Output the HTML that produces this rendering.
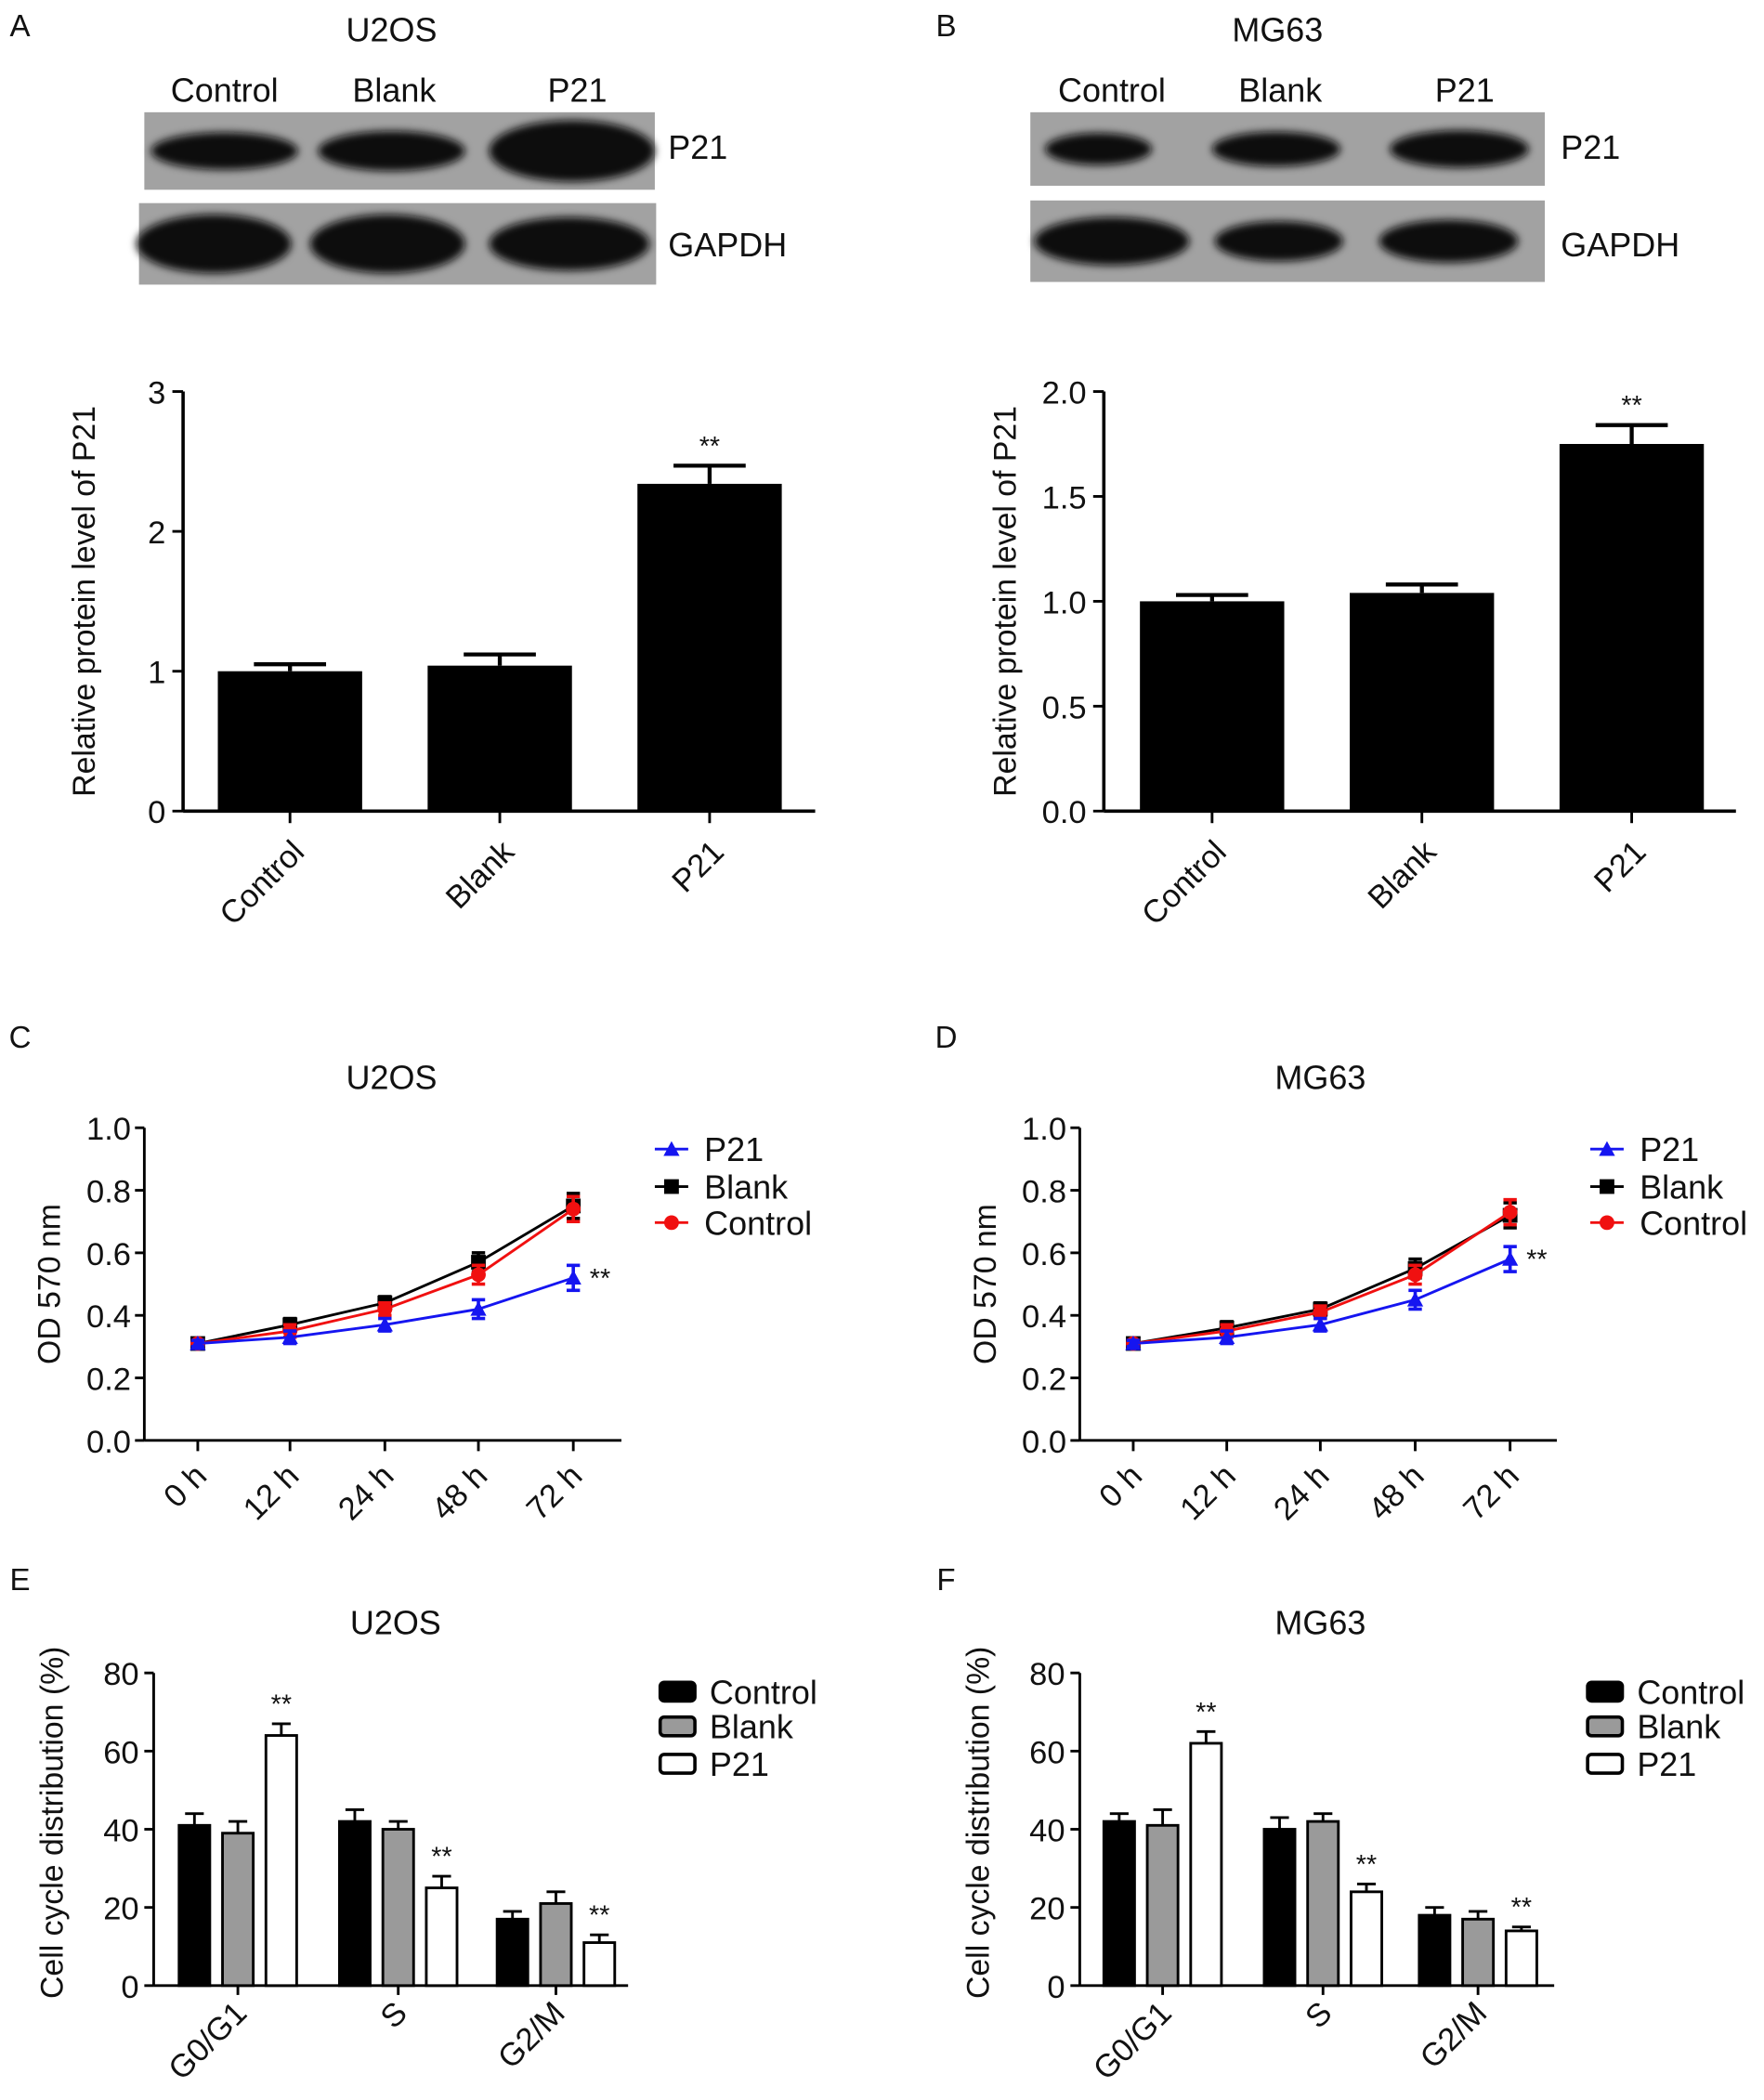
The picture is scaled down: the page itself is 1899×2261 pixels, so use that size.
<!DOCTYPE html>
<html><head><meta charset="utf-8"><style>
html,body{margin:0;padding:0;background:#fff;}
svg{display:block;font-family:"Liberation Sans",Arial,sans-serif;}
</style></head><body>
<svg id="fig" width="1899" height="2261" viewBox="0 0 1320 1571.6" xmlns="http://www.w3.org/2000/svg">
<defs>
<filter id="blur" x="-20%" y="-50%" width="140%" height="200%"><feGaussianBlur stdDeviation="3"/></filter>
</defs>
<g id="root"></g>
</svg>
<script>
// ---- Panel A/B bar data ----
const wbCategories = ["Control","Blank","P21"];
const u2osProtein = [1.0, 1.04, 2.34];
const u2osProteinErr = [0.05, 0.08, 0.13];
const mg63Protein = [1.0, 1.04, 1.75];
const mg63ProteinErr = [0.03, 0.04, 0.09];
const u2osProteinTicks = [0,1,2,3];
const mg63ProteinTicks = ["0.0","0.5","1.0","1.5","2.0"];
// ---- Panel C/D line data ----
const timeLabels = ["0 h","12 h","24 h","48 h","72 h"];
const u2osP21 = [0.31,0.33,0.37,0.42,0.52];
const u2osBlank = [0.31,0.37,0.44,0.57,0.75];
const u2osControl = [0.31,0.35,0.42,0.53,0.74];
const u2osErr = [0.01,0.02,0.02,0.03,0.04];
const mg63P21 = [0.31,0.33,0.37,0.45,0.58];
const mg63Blank = [0.31,0.36,0.42,0.55,0.72];
const mg63Control = [0.31,0.35,0.41,0.53,0.73];
const mg63Err = [0.01,0.02,0.02,0.03,0.04];
const odTicks = ["0.0","0.2","0.4","0.6","0.8","1.0"];
// ---- Panel E/F cycle data ----
const phases = ["G0/G1","S","G2/M"];
const u2osCycleControl = [41,42,17];
const u2osCycleBlank = [39,40,21];
const u2osCycleP21 = [64,25,11];
const u2osCycleErr = [[3,3,2],[3,2,3],[3,3,2]];
const mg63CycleControl = [42,40,18];
const mg63CycleBlank = [41,42,17];
const mg63CycleP21 = [62,24,14];
const mg63CycleErr = [[2,3,2],[4,2,2],[3,2,1]];
const cycleTicks = [0,20,40,60,80];

const FS=25, FT=24, FY=23.5;
const NS="http://www.w3.org/2000/svg";
const root=document.getElementById('root');
function el(tag,attrs,parent,text){const e=document.createElementNS(NS,tag);for(const k in attrs)e.setAttribute(k,attrs[k]);if(text!==undefined)e.textContent=text;(parent||root).appendChild(e);return e;}
function txt(x,y,s,size,parent,anchor,name,extra){const t=el('text',Object.assign({x:x,y:y,'font-size':size,'text-anchor':anchor||'middle',fill:'#111'},extra||{}),parent,s);


return t;}

// ---- panel labels and titles ----
[["A",15,27],["B",708,27],["C",15,784],["D",708,784],["E",15,1190],["F",708,1190]].forEach(p=>txt(p[1],p[2],p[0],23,root,'middle','panel-label-'+p[0].toLowerCase()));
[["U2OS",293,31],["MG63",956,31],["U2OS",293,815],["MG63",988,815],["U2OS",296,1223],["MG63",988,1223]].forEach((p,i)=>txt(p[1],p[2],p[0],FS,root,'middle','panel-title-'+i));

// ---- western blots ----
function blot(g,x0,x1,y0,y1,lanes,name){
  const grp=el('g',{},g);
  
  
  el('rect',{x:x0,y:y0,width:x1-x0,height:y1-y0,fill:'#a2a2a2'},grp);
  lanes.forEach(l=>el('ellipse',{cx:l[0],cy:(y0+y1)/2,rx:l[1],ry:l[2],fill:'#0c0c0c',filter:'url(#blur)'},grp));
}
blot(root,108,490,84,142,[[168,55,14],[293,55,15],[428,62,23]],'u2os-p21-blot');
blot(root,104,491,152,213,[[160,58,22],[290,58,22],[426,60,20]],'u2os-gapdh-blot');
blot(root,771,1156,84,139,[[822,40,12],[955,48,13],[1092,52,14]],'mg63-p21-blot');
blot(root,771,1156,150,211,[[832,58,18],[957,48,15],[1084,52,16]],'mg63-gapdh-blot');
[[168,"Control"],[295,"Blank"],[432,"P21"]].forEach(l=>txt(l[0],76,l[1],FS,root,'middle','lane-label-u2os'));
[[832,"Control"],[958,"Blank"],[1096,"P21"]].forEach(l=>txt(l[0],76,l[1],FS,root,'middle','lane-label-mg63'));
txt(500,119,"P21",FS,root,'start','blot-label-p21');txt(500,192,"GAPDH",FS,root,'start','blot-label-gapdh');
txt(1168,119,"P21",FS,root,'start','blot-label-p21');txt(1168,192,"GAPDH",FS,root,'start','blot-label-gapdh');

// ---- protein bar charts ----
function proteinChart(ax,vals,errs,ticks,ymax,barX,name){
  const g=el('g',{});
  
  
  const y0=607,yTop=293,xEnd=ax+473;
  const Y=v=>y0-(v/ymax)*(y0-yTop);
  el('line',{x1:ax,y1:yTop,x2:ax,y2:y0,stroke:'#000','stroke-width':2.5},g);
  el('line',{x1:ax,y1:y0,x2:xEnd,y2:y0,stroke:'#000','stroke-width':2.5},g);
  ticks.forEach(t=>{const y=Y(parseFloat(t));el('line',{x1:ax-8,y1:y,x2:ax,y2:y,stroke:'#000','stroke-width':2},g);txt(ax-13,y+9,String(t),FT,g,'end','y-tick-label');});
  const bw=108;
  vals.forEach((v,i)=>{const x=barX[i];
    const r=el('rect',{x:x,y:Y(v),width:bw,height:y0-Y(v),fill:'#000'},g);
    
    
    const cx=x+bw/2,ye=Y(v+errs[i]);
    el('line',{x1:cx,y1:Y(v),x2:cx,y2:ye,stroke:'#000','stroke-width':3},g);
    el('line',{x1:cx-27,y1:ye,x2:cx+27,y2:ye,stroke:'#000','stroke-width':3},g);
    el('line',{x1:cx,y1:y0,x2:cx,y2:y0+9,stroke:'#000','stroke-width':2},g);
    txt(cx+12,y0+32,wbCategories[i],FT,g,'end','x-tick-label',{transform:`rotate(-45 ${cx+12} ${y0+32})`});
    if(i===2)txt(cx,ye-8,"**",20,g,'middle','significance-marker');
  });
  txt(ax-66,(y0+yTop)/2,"Relative protein level of P21",FY,g,'middle','y-axis-title',{transform:`rotate(-90 ${ax-66} ${(y0+yTop)/2})`});
}
proteinChart(137,u2osProtein,u2osProteinErr,u2osProteinTicks,3,[163,320,477],'u2os-protein-chart');
proteinChart(826,mg63Protein,mg63ProteinErr,mg63ProteinTicks,2,[853,1010,1167],'mg63-protein-chart');

// ---- line charts ----
function marker(g,type,x,y,c){
  if(type==='tri')el('polygon',{points:`${x},${y-6} ${x-6},${y+5} ${x+6},${y+5}`,fill:c},g);
  else if(type==='sq')el('rect',{x:x-5.5,y:y-5.5,width:11,height:11,fill:c},g);
  else el('circle',{cx:x,cy:y,r:5.5,fill:c},g);
}
function lineChart(ax,xs,series,err,name,legX){
  const g=el('g',{});
  
  
  const y0=1078,yTop=844,xEnd=ax+357;
  const Y=v=>y0-v*(y0-yTop);
  el('line',{x1:ax,y1:yTop,x2:ax,y2:y0,stroke:'#000','stroke-width':2},g);
  el('line',{x1:ax,y1:y0,x2:xEnd,y2:y0,stroke:'#000','stroke-width':2},g);
  odTicks.forEach(t=>{const y=Y(parseFloat(t));el('line',{x1:ax-7,y1:y,x2:ax,y2:y,stroke:'#000','stroke-width':2},g);txt(ax-10,y+9,t,FT,g,'end','y-tick-label');});
  xs.forEach((x,i)=>{el('line',{x1:x,y1:y0,x2:x,y2:y0+8,stroke:'#000','stroke-width':2},g);
    txt(x+8,y0+28,timeLabels[i],FT,g,'end','x-tick-label',{transform:`rotate(-45 ${x+8} ${y0+28})`});});
  series.forEach(s=>{
    const sg=el('g',{},g);
    
    
    el('polyline',{points:s.vals.map((v,i)=>`${xs[i]},${Y(v)}`).join(' '),fill:'none',stroke:s.c,'stroke-width':2},sg);
    s.vals.forEach((v,i)=>{const x=xs[i];
      el('line',{x1:x,y1:Y(v-err[i]),x2:x,y2:Y(v+err[i]),stroke:s.c,'stroke-width':2.5},sg);
      el('line',{x1:x-5,y1:Y(v-err[i]),x2:x+5,y2:Y(v-err[i]),stroke:s.c,'stroke-width':2.5},sg);
      el('line',{x1:x-5,y1:Y(v+err[i]),x2:x+5,y2:Y(v+err[i]),stroke:s.c,'stroke-width':2.5},sg);
      marker(sg,s.m,x,Y(v),s.c);});
  });
  const p21=series[2];
  txt(xs[4]+20,Y(p21.vals[4])+7,"**",20,g,'middle','significance-marker');
  txt(ax-63,(y0+yTop)/2,"OD 570 nm",FY,g,'middle','y-axis-title',{transform:`rotate(-90 ${ax-63} ${(y0+yTop)/2})`});
  [[series[2],860],[series[0],888],[series[1],915]].forEach(l=>{
    const lg=el('g',{},g);
    
    
    el('line',{x1:legX,y1:l[1],x2:legX+25,y2:l[1],stroke:l[0].c,'stroke-width':2},lg);
    marker(lg,l[0].m,legX+12.5,l[1],l[0].c);
    txt(legX+37,l[1]+9,l[0].name,FS,lg,'start','legend-label');
  });
}
lineChart(108,[148,217,288,358,429],[
  {name:"Blank",vals:u2osBlank,c:'#000',m:'sq'},
  {name:"Control",vals:u2osControl,c:'#f01010',m:'ci'},
  {name:"P21",vals:u2osP21,c:'#1515f0',m:'tri'}],u2osErr,'u2os-od-chart',490);
lineChart(808,[848,918,988,1059,1130],[
  {name:"Blank",vals:mg63Blank,c:'#000',m:'sq'},
  {name:"Control",vals:mg63Control,c:'#f01010',m:'ci'},
  {name:"P21",vals:mg63P21,c:'#1515f0',m:'tri'}],mg63Err,'mg63-od-chart',1190);

// ---- cycle charts ----
function cycleChart(ax,groupX,sets,errs,name,legX){
  const g=el('g',{});
  
  
  const y0=1486,yTop=1252,xEnd=ax+355;
  const Y=v=>y0-(v/80)*(y0-yTop);
  el('line',{x1:ax,y1:yTop,x2:ax,y2:y0,stroke:'#000','stroke-width':2},g);
  el('line',{x1:ax,y1:y0,x2:xEnd,y2:y0,stroke:'#000','stroke-width':2},g);
  cycleTicks.forEach(t=>{const y=Y(t);el('line',{x1:ax-7,y1:y,x2:ax,y2:y,stroke:'#000','stroke-width':2},g);txt(ax-11,y+9,String(t),FT,g,'end','y-tick-label');});
  const fills=['#000','#9a9a9a','#fff'],bw=23,step=32.5,names=['control','blank','p21'];
  phases.forEach((ph,gi)=>{
    sets.forEach((s,si)=>{const x=groupX[gi]+si*step,v=s[gi],e=errs[si][gi],cx=x+bw/2;
      el('line',{x1:cx,y1:Y(v),x2:cx,y2:Y(v+e),stroke:'#000','stroke-width':2},g);
      el('line',{x1:cx-7,y1:Y(v+e),x2:cx+7,y2:Y(v+e),stroke:'#000','stroke-width':2},g);
      const r=el('rect',{x:x,y:Y(v),width:bw,height:y0-Y(v),fill:fills[si],stroke:'#000','stroke-width':2},g);
      
      
      if(si===2)txt(cx,Y(v+e)-8,"**",20,g,'middle','significance-marker');
    });
    const cx=groupX[gi]+step+bw/2;
    el('line',{x1:cx,y1:y0,x2:cx,y2:y0+7,stroke:'#000','stroke-width':2},g);
    txt(cx+8,y0+22,ph,FT,g,'end','x-tick-label',{transform:`rotate(-45 ${cx+8} ${y0+22})`});
  });
  txt(ax-68,(y0+yTop)/2-5,"Cell cycle distribution (%)",FY,g,'middle','y-axis-title',{transform:`rotate(-90 ${ax-68} ${(y0+yTop)/2-5})`});
  [["Control",1266],["Blank",1292],["P21",1320]].forEach((l,i)=>{
    const lg=el('g',{},g);
    
    
    el('rect',{x:legX,y:l[1]-7,width:26,height:14,rx:3,fill:fills[i],stroke:'#000','stroke-width':2.5},lg);
    txt(legX+37,l[1]+9,l[0],FS,lg,'start','legend-label');
  });
}
cycleChart(115,[134,254,372],[u2osCycleControl,u2osCycleBlank,u2osCycleP21],u2osCycleErr,'u2os-cycle-chart',494);
cycleChart(808,[826,946,1062],[mg63CycleControl,mg63CycleBlank,mg63CycleP21],mg63CycleErr,'mg63-cycle-chart',1188);
</script>
</body></html>
